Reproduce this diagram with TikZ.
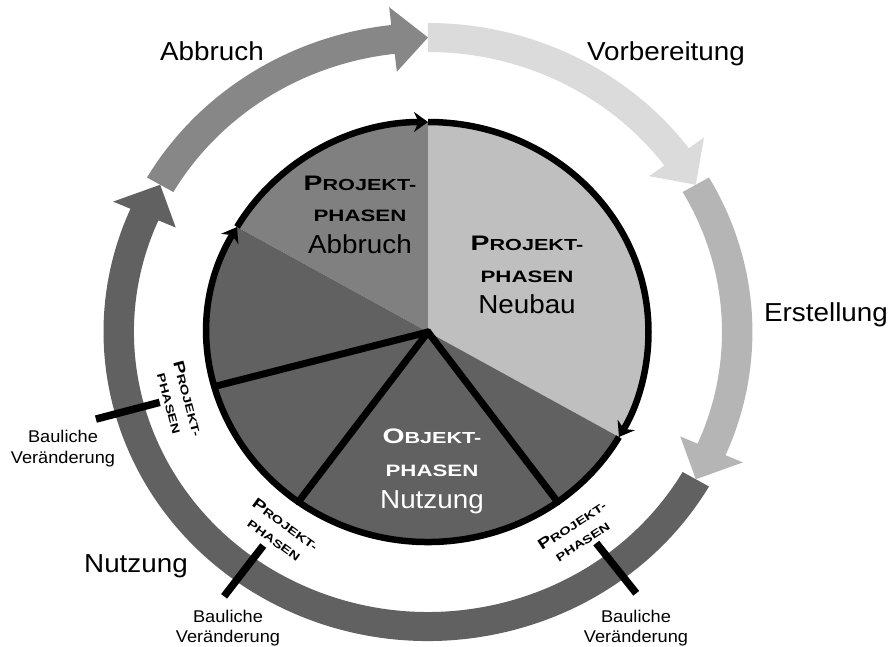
\documentclass[tikz,border=0pt]{standalone}
\usepackage{fontspec}
\setmainfont{Liberation Sans}[FakeStretch=1.07]
\newfontfamily\capsfont{Liberation Sans}[FakeStretch=1.35]
\usetikzlibrary{arrows.meta}

\definecolor{ringabbruch}{gray}{0.53}
\definecolor{ringvorb}{gray}{0.86}
\definecolor{ringerst}{gray}{0.71}
\definecolor{ringnutz}{gray}{0.38}
\definecolor{pieneubau}{gray}{0.75}
\definecolor{pieabbruch}{gray}{0.5}
\definecolor{pienutz}{gray}{0.38}

\begin{document}
\begin{tikzpicture}[x=1pt,y=1pt,
  bigtext/.style={anchor=base,inner sep=0pt,font=\fontsize{26}{26}\selectfont},
  capsline/.style={anchor=base,inner sep=0pt},
  smalltext/.style={anchor=base,inner sep=0pt,font=\fontsize{17}{17}\selectfont},
  pielabel/.style={align=center,inner sep=0pt,font=\capsfont\bfseries\fontsize{11}{19}\selectfont},
  rimline/.style={line width=6.5pt},
  spoke/.style={line width=7pt,line cap=round},
  tick/.style={line width=7.5pt},
  rimtip/.style={-{Stealth[length=14pt,width=20pt]}}]
\useasboundingbox (-428,-314) rectangle (461,332);

\begin{scope}[xscale=1.05]
\coordinate (c) at (0,0);
% outer ring of arrows
\foreach \a/\b/\col in {150/90/ringabbruch,90/30/ringvorb,30/-30/ringerst,-30/-210/ringnutz}{
  \pgfmathsetmacro\m{\b+6.5}
  \fill[\col] (\a:309) arc[start angle=\a,end angle=\m,radius=309]
    -- (\m:327) -- (\b:294.5) -- (\m:262) -- (\m:280)
    arc[start angle=\m,end angle=\a,radius=280] -- cycle;
}

% pie
\fill[pieneubau] (c) -- (90:210) arc[start angle=90,end angle=-30,radius=210] -- cycle;
\fill[pieabbruch] (c) -- (150:210) arc[start angle=150,end angle=90,radius=210] -- cycle;
\fill[pienutz] (c) -- (-30:210) arc[start angle=-30,end angle=-210,radius=210] -- cycle;

\foreach \w [count=\i] in {-54,-126,195}{
  \coordinate (spoke\i) at (\w:210);
  \draw[spoke] (c) -- (spoke\i);
}

\draw[rimline,rimtip] (150:210) arc[start angle=150,end angle=90,radius=210];
\draw[rimline,rimtip] (90:210) arc[start angle=90,end angle=-30,radius=210];
\draw[rimline,rimtip] (-30:210) arc[start angle=-30,end angle=-210,radius=210];

% bars across the ring
\foreach \w [count=\i] in {195.4,233.7,-52.8}{
  \coordinate (ta\i) at (\w:265);
  \coordinate (tb\i) at (\w:328);
  \draw[tick] (ta\i) -- (tb\i);
}
\end{scope}

% outer labels
\node[bigtext] (lababbruch) at (-216,272) {Abbruch};
\node[bigtext] (labvorb) at (238,272) {Vorbereitung};
\node[bigtext] (laberst) at (398,11) {Erstellung};
\node[bigtext] (labnutz) at (-292,-240) {Nutzung};

% sector labels
\node[capsline] (abbA) at (-68,142) {\capsfont\bfseries{\fontsize{21}{21}\selectfont P}\fontsize{16}{16}\selectfont ROJEKT-};
\node[capsline] (abbB) at (-68,111) {\capsfont\bfseries\fontsize{16.5}{16.5}\selectfont PHASEN};
\node[bigtext] (abbC) at (-68,79) {Abbruch};

\node[capsline] (neuA) at (99,82) {\capsfont\bfseries{\fontsize{21}{21}\selectfont P}\fontsize{16}{16}\selectfont ROJEKT-};
\node[capsline] (neuB) at (99,50) {\capsfont\bfseries\fontsize{16.5}{16.5}\selectfont PHASEN};
\node[bigtext] (neuC) at (99,19) {Neubau};

\node[capsline,text=white] (objA) at (4,-111) {\capsfont\bfseries{\fontsize{21}{21}\selectfont O}\fontsize{16}{16}\selectfont BJEKT-};
\node[capsline,text=white] (objB) at (4,-144) {\capsfont\bfseries\fontsize{16.5}{16.5}\selectfont PHASEN};
\node[bigtext,text=white] (objC) at (4,-176) {Nutzung};

% small labels along the ring
\node[pielabel,rotate=-75] (pa) at (-249,-69) {{\fontsize{15}{19}\selectfont P}ROJEKT-\\PHASEN};
\node[pielabel,rotate=-36] (pb) at (-148,-200) {{\fontsize{15}{19}\selectfont P}ROJEKT-\\PHASEN};
\node[pielabel,rotate=33] (pc) at (149,-201) {{\fontsize{15}{19}\selectfont P}ROJEKT-\\PHASEN};

\node[smalltext] (bvA1) at (-365,-110) {Bauliche};
\node[smalltext] (bvA2) at (-365,-131) {Veränderung};
\node[smalltext] (bvB1) at (-200,-290) {Bauliche};
\node[smalltext] (bvB2) at (-200,-310) {Veränderung};
\node[smalltext] (bvC1) at (208,-290) {Bauliche};
\node[smalltext] (bvC2) at (208,-310) {Veränderung};
\end{tikzpicture}
\end{document}
